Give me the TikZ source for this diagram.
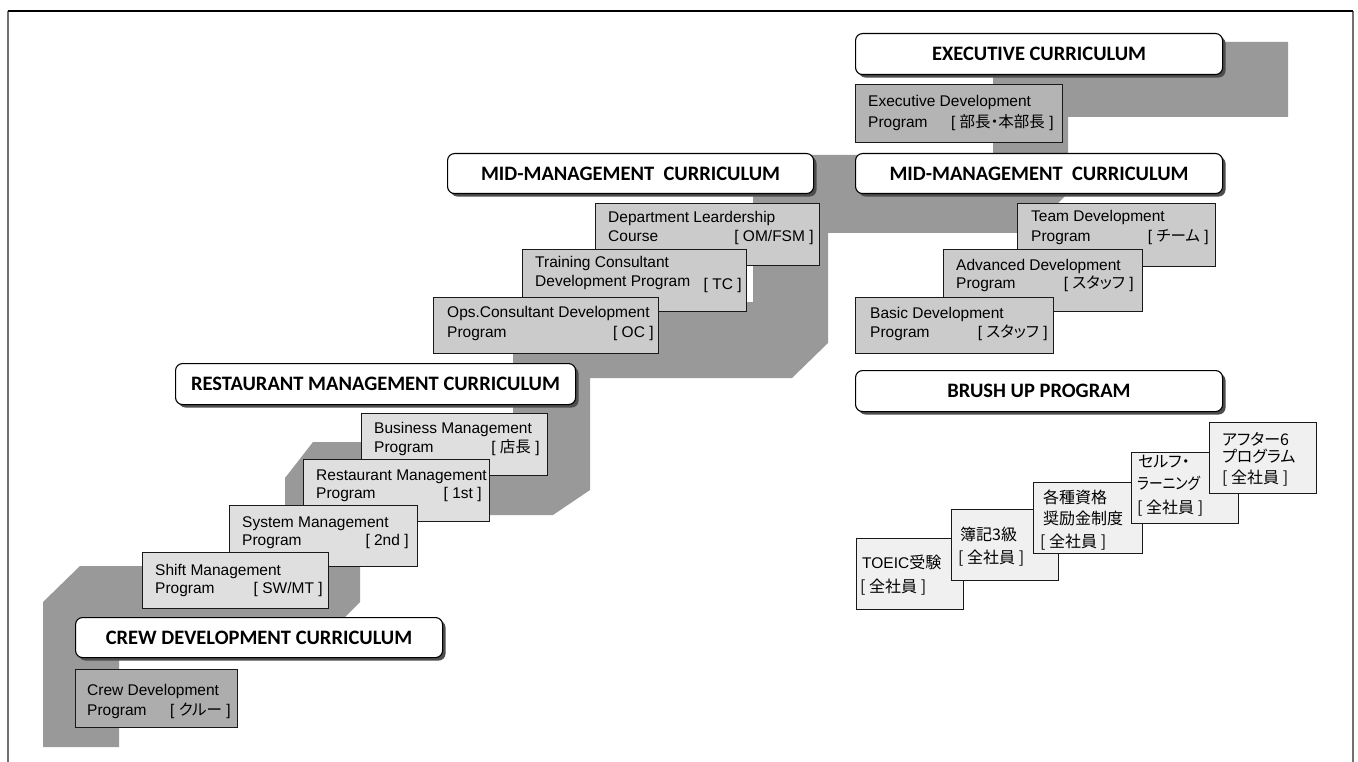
\documentclass[tikz,border=0pt]{standalone}
\usepackage{fontspec}
\setmainfont{Liberation Sans}
\newfontfamily\hdrfont{Carlito}
\newfontfamily\jpfont{Noto Sans CJK JP}[RawFeature=+palt]
\usetikzlibrary{shadows}

\definecolor{band}{HTML}{999999}
\definecolor{crewfill}{HTML}{ADADAD}
\definecolor{execfill}{HTML}{B4B4B4}
\definecolor{midfill}{HTML}{CBCBCB}
\definecolor{restfill}{HTML}{DFDFDF}
\definecolor{brushfill}{HTML}{F0F0F0}
\definecolor{shade}{HTML}{4D4D4D}
\definecolor{framegray}{HTML}{707070}

\begin{document}
\begin{tikzpicture}[x=1pt,y=-1pt,
  hdr/.style={draw=black, line width=1.1pt, fill=white, rounded corners=7pt,
    anchor=north west, inner sep=0pt,
    font=\hdrfont\bfseries\fontsize{20.5}{24}\selectfont,
    general shadow={fill=shade, shadow xshift=3pt, shadow yshift=-3pt}},
  card/.style={draw=black!90, line width=0.8pt, anchor=north west, inner sep=0pt},
  ln/.style={anchor=base west, inner sep=0pt, font=\fontsize{15.5}{18}\selectfont},
  tag/.style={anchor=base east, inner sep=0pt, font=\fontsize{15.5}{18}\selectfont},
  jp/.style={anchor=base west, inner sep=0pt, font=\jpfont\fontsize{16}{18}\selectfont},
]
\useasboundingbox (0,0) rectangle (1358,762);

% outer frame (open at the bottom)
\coordinate (fTL) at (8,11);
\coordinate (fTR) at (1353,11);
\coordinate (fBL) at (8,762);
\coordinate (fBR) at (1353,762);
\draw[framegray, line width=2pt] (fTL) -- (fBL);
\draw[framegray, line width=2pt] (fTR) -- (fBR);
\draw[black, line width=1.2pt] (fTL) -- (fTR);

% the grey career staircase behind the curricula
\fill[band] (43,747) -- (43,602) -- (80,566) -- (285,566) -- (285,478) -- (313,442)
  -- (513,442) -- (513,302) -- (753,302) -- (753,155) -- (993,155) -- (993,42)
  -- (1288,42) -- (1288,117) -- (1068,117) -- (1068,193) -- (1028,233) -- (828,233)
  -- (828,343) -- (792,378) -- (590,378) -- (590,490) -- (553,515) -- (405,515)
  -- (405,560) -- (360,560) -- (360,602) -- (345,617) -- (345,640) -- (119,640)
  -- (119,747) -- cycle;

% curriculum headers
\node[hdr, minimum width=367pt, minimum height=41pt] (hExec) at (855,33) {EXECUTIVE CURRICULUM};
\node[hdr, minimum width=367pt, minimum height=40pt] (hMidR) at (855,153) {MID-MANAGEMENT~~CURRICULUM};
\node[hdr, minimum width=366pt, minimum height=40pt] (hMidL) at (447,153) {MID-MANAGEMENT~~CURRICULUM};
\node[hdr, minimum width=400pt, minimum height=41pt] (hRest) at (175,363) {RESTAURANT MANAGEMENT CURRICULUM};
\node[hdr, minimum width=367pt, minimum height=40pt] (hCrew) at (75,617) {CREW DEVELOPMENT CURRICULUM};
\node[hdr, minimum width=367pt, minimum height=41pt] (hBrush) at (855,370) {BRUSH UP PROGRAM};

% executive
\node[card, fill=execfill, minimum width=207pt, minimum height=58pt] (cExec) at (855,84) {};
\node[ln] (cExec1) at ([shift={(13,23)}]cExec.north west) {Executive Development};
\node[ln] (cExec2) at ([shift={(13,44)}]cExec.north west) {Program};
\node[tag] (cExecT) at ([shift={(-9,44)}]cExec.north east) {[ {\jpfont 部長・本部長} ]};

% mid-management, staff line
\node[card, fill=midfill, minimum width=198pt, minimum height=63pt] (cTeam) at (1017,203) {};
\node[ln] (cTeam1) at ([shift={(14,19)}]cTeam.north west) {Team Development};
\node[ln] (cTeam2) at ([shift={(14,39)}]cTeam.north west) {Program};
\node[tag] (cTeamT) at ([shift={(-7,39)}]cTeam.north east) {[ {\jpfont チーム} ]};

\node[card, fill=midfill, minimum width=199pt, minimum height=62pt] (cAdv) at (943,249) {};
\node[ln] (cAdv1) at ([shift={(13,21)}]cAdv.north west) {Advanced Development};
\node[ln] (cAdv2) at ([shift={(13,39)}]cAdv.north west) {Program};
\node[tag] (cAdvT) at ([shift={(-9,39)}]cAdv.north east) {[ {\jpfont スタッフ} ]};

\node[card, fill=midfill, minimum width=198pt, minimum height=56pt] (cBasic) at (855,297) {};
\node[ln] (cBasic1) at ([shift={(15,21)}]cBasic.north west) {Basic Development};
\node[ln] (cBasic2) at ([shift={(15,40)}]cBasic.north west) {Program};
\node[tag] (cBasicT) at ([shift={(-6,40)}]cBasic.north east) {[ {\jpfont スタッフ} ]};

% mid-management, operations line
\node[card, fill=midfill, minimum width=224pt, minimum height=62pt] (cDept) at (595,203) {};
\node[ln] (cDept1) at ([shift={(13,20)}]cDept.north west) {Department Leardership};
\node[ln] (cDept2) at ([shift={(13,39)}]cDept.north west) {Course};
\node[tag] (cDeptT) at ([shift={(-6,39)}]cDept.north east) {[ OM/FSM ]};

\node[card, fill=midfill, minimum width=224pt, minimum height=62pt] (cTrain) at (522,249) {};
\node[ln] (cTrain1) at ([shift={(13,19)}]cTrain.north west) {Training Consultant};
\node[ln] (cTrain2) at ([shift={(13,38)}]cTrain.north west) {Development Program};
\node[tag] (cTrainT) at ([shift={(-5,41)}]cTrain.north east) {[ TC ]};

\node[card, fill=midfill, minimum width=225pt, minimum height=56pt] (cOps) at (433,297) {};
\node[ln] (cOps1) at ([shift={(14,20)}]cOps.north west) {Ops.Consultant Development};
\node[ln] (cOps2) at ([shift={(14,40)}]cOps.north west) {Program};
\node[tag] (cOpsT) at ([shift={(-5,40)}]cOps.north east) {[ OC ]};

% restaurant management
\node[card, fill=restfill, minimum width=186pt, minimum height=62pt] (cBiz) at (361,413) {};
\node[ln] (cBiz1) at ([shift={(13,20)}]cBiz.north west) {Business Management};
\node[ln] (cBiz2) at ([shift={(13,39)}]cBiz.north west) {Program};
\node[tag] (cBizT) at ([shift={(-8,39)}]cBiz.north east) {[ {\jpfont 店長} ]};

\node[card, fill=restfill, minimum width=186pt, minimum height=62pt] (cRest) at (303,459) {};
\node[ln] (cRest1) at ([shift={(13,21)}]cRest.north west) {Restaurant Management};
\node[ln] (cRest2) at ([shift={(13,39)}]cRest.north west) {Program};
\node[tag] (cRestT) at ([shift={(-8,39)}]cRest.north east) {[ 1st ]};

\node[card, fill=restfill, minimum width=188pt, minimum height=61pt] (cSys) at (229,505) {};
\node[ln] (cSys1) at ([shift={(13,22)}]cSys.north west) {System Management};
\node[ln] (cSys2) at ([shift={(13,40)}]cSys.north west) {Program};
\node[tag] (cSysT) at ([shift={(-9,40)}]cSys.north east) {[ 2nd ]};

\node[card, fill=restfill, minimum width=186pt, minimum height=56pt] (cShift) at (142,552) {};
\node[ln] (cShift1) at ([shift={(13,23)}]cShift.north west) {Shift Management};
\node[ln] (cShift2) at ([shift={(13,41)}]cShift.north west) {Program};
\node[tag] (cShiftT) at ([shift={(-6,41)}]cShift.north east) {[ SW/MT ]};

% crew
\node[card, fill=crewfill, minimum width=162pt, minimum height=58pt] (cCrew) at (75,669) {};
\node[ln] (cCrew1) at ([shift={(12,26)}]cCrew.north west) {Crew Development};
\node[ln] (cCrew2) at ([shift={(12,46)}]cCrew.north west) {Program};
\node[tag] (cCrewT) at ([shift={(-7,46)}]cCrew.north east) {[ {\jpfont クルー} ]};

% brush-up programs
\node[card, fill=brushfill, minimum width=107pt, minimum height=71pt] (bToeic) at (856,538) {};
\node[ln] (bToeic1) at ([shift={(6,30)}]bToeic.north west) {TOEIC{\jpfont\fontsize{16}{18}\selectfont 受験}};
\node[jp] (bToeic2) at ([shift={(4,54)}]bToeic.north west) {[ 全社員 ]};

\node[card, fill=brushfill, minimum width=107pt, minimum height=71pt] (bBoki) at (951,509) {};
\node[jp] (bBoki1) at ([shift={(9,31)}]bBoki.north west) {簿記3級};
\node[jp] (bBoki2) at ([shift={(7,54)}]bBoki.north west) {[ 全社員 ]};

\node[card, fill=brushfill, minimum width=109pt, minimum height=71pt] (bShikaku) at (1033,482) {};
\node[jp] (bShikaku1) at ([shift={(10,21)}]bShikaku.north west) {各種資格};
\node[jp] (bShikaku2) at ([shift={(10,42)}]bShikaku.north west) {奨励金制度};
\node[jp] (bShikaku3) at ([shift={(7,65)}]bShikaku.north west) {[ 全社員 ]};

\node[card, fill=brushfill, minimum width=107pt, minimum height=71pt] (bSelf) at (1131,452) {};
\node[jp] (bSelf1) at ([shift={(7,15)}]bSelf.north west) {セルフ・};
\node[jp] (bSelf2) at ([shift={(6,37)}]bSelf.north west) {\scalebox{0.86}[1]{ラーニング}};
\node[jp] (bSelf3) at ([shift={(6,61)}]bSelf.north west) {[ 全社員 ]};

\node[card, fill=brushfill, minimum width=107pt, minimum height=71pt] (bAfter) at (1209,422) {};
\node[jp] (bAfter1) at ([shift={(13,23)}]bAfter.north west) {アフター6};
\node[jp] (bAfter2) at ([shift={(13,40)}]bAfter.north west) {プログラム};
\node[jp] (bAfter3) at ([shift={(13,61)}]bAfter.north west) {[ 全社員 ]};

\end{tikzpicture}
\end{document}
